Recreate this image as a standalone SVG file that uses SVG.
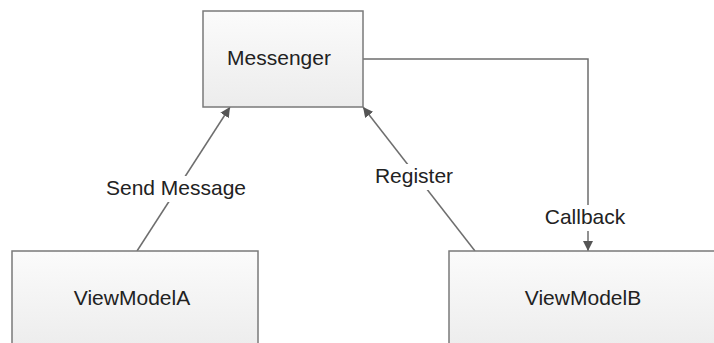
<svg xmlns="http://www.w3.org/2000/svg" width="714" height="343" viewBox="0 0 714 343">
  <defs>
    <linearGradient id="boxFill" x1="0" y1="0" x2="0" y2="1">
      <stop offset="0" stop-color="#fbfbfb"/>
      <stop offset="1" stop-color="#ececec"/>
    </linearGradient>
    <marker id="arrow" viewBox="0 0 10 10" refX="10" refY="5" markerWidth="10" markerHeight="10" markerUnits="userSpaceOnUse" orient="auto">
      <path d="M0,0 L10,5 L0,10 z" fill="#555"/>
    </marker>
    <style>
      .box { fill: url(#boxFill); stroke: #7a7a7a; stroke-width: 1.5; }
      .label { font-family: "Liberation Sans", Arial, sans-serif; font-size: 21px; fill: #222; text-anchor: middle; }
      .edge { fill: none; stroke: #6e6e6e; stroke-width: 1.5; marker-end: url(#arrow); }
      .bg { fill: #fff; }
    </style>
  </defs>
  <rect width="714" height="343" fill="#fff"/>

  <g id="connectors">
    <line class="edge" x1="137" y1="251" x2="230" y2="107"/>
    <line class="edge" x1="475" y1="251" x2="363" y2="107"/>
    <polyline class="edge" points="363,59 588,59 588,251"/>
    <rect class="bg" x="104" y="176" width="144" height="26"/>
    <text class="label" x="176" y="195">Send Message</text>
    <rect class="bg" x="374" y="164" width="81" height="26"/>
    <text class="label" x="414" y="183">Register</text>
    <rect class="bg" x="544" y="205" width="82" height="26"/>
    <text class="label" x="585" y="224">Callback</text>
  </g>

  <g id="messenger">
    <rect class="box" x="203" y="11" width="160" height="96"/>
    <text class="label" x="279" y="65">Messenger</text>
  </g>

  <g id="viewModelA">
    <rect class="box" x="12" y="251" width="246" height="100"/>
    <text class="label" x="132" y="305">ViewModelA</text>
  </g>

  <g id="viewModelB">
    <rect class="box" x="449" y="251" width="268" height="100"/>
    <text class="label" x="583" y="305">ViewModelB</text>
  </g>
</svg>
